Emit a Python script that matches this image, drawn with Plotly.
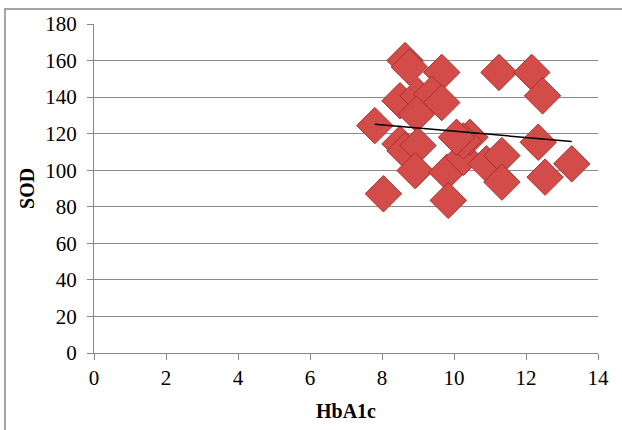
import numpy as np
import plotly.graph_objects as go

# HbA1c vs SOD measurements
hba1c = [8.64, 8.76, 9.66, 11.25, 12.16, 12.46, 8.50, 9.00, 9.38, 9.66,
         8.96, 7.80, 8.50, 8.64, 9.00, 8.92, 9.80, 10.26, 10.44, 10.26,
         10.90, 11.33, 11.33, 12.34, 12.53, 13.27, 8.04, 9.84, 10.07]
sod = [160.0, 156.5, 153.5, 153.5, 153.5, 140.7, 138.0, 140.7, 141.6, 137.0,
       130.7, 124.4, 114.4, 110.7, 113.5, 99.8, 98.9, 107.0, 118.0, 116.0,
       103.5, 108.0, 93.5, 115.3, 96.2, 103.5, 87.1, 83.5, 118.0]

x_ticks = [0, 2, 4, 6, 8, 10, 12, 14]
y_ticks = [0, 20, 40, 60, 80, 100, 120, 140, 160, 180]

# linear trendline over the data range
slope, intercept = np.polyfit(hba1c, sod, 1)
trend_x = [min(hba1c), max(hba1c)]
trend_y = [slope * v + intercept for v in trend_x]

W, H = 622, 430
L, R, T, B = 94, 24, 22, 77

fig = go.Figure()
fig.add_trace(go.Scatter(
    x=hba1c, y=sod, mode="markers",
    marker=dict(symbol="diamond", size=28, color="#D44C4A",
                line=dict(color="#A8302E", width=1)),
    hoverinfo="x+y", showlegend=False,
))
fig.add_trace(go.Scatter(
    x=trend_x, y=trend_y, mode="lines",
    line=dict(color="#000000", width=1.5),
    hoverinfo="skip", showlegend=False,
))

SERIF = "Liberation Serif, Times New Roman, serif"
axis_font = dict(family=SERIF, size=21, color="#000000")
title_font = dict(family=SERIF, size=20, color="#000000")

fig.update_xaxes(
    range=[0, 14], tickvals=x_ticks, ticktext=[str(v) for v in x_ticks],
    showgrid=False, zeroline=False, showline=True, linecolor="#878787", linewidth=1.3,
    ticks="outside", ticklen=6, tickcolor="#878787", tickfont=axis_font,
)
fig.update_yaxes(
    range=[0, 180], tickvals=y_ticks, ticktext=[str(v) for v in y_ticks],
    showgrid=True, gridcolor="#8A8A8A", gridwidth=1.3, zeroline=False,
    showline=True, linecolor="#878787", linewidth=1.3,
    ticks="outside", ticklen=6, tickcolor="#878787", tickfont=axis_font,
    ticklabelstandoff=6,
)

pw, ph = W - L - R, H - T - B
def px(xp):
    return (xp - L) / pw
def py(yp):
    return (H - B - yp) / ph

fig.update_layout(
    width=W, height=H,
    margin=dict(l=L, r=R, t=T, b=B),
    paper_bgcolor="#FFFFFF", plot_bgcolor="#FFFFFF",
    font=dict(family=SERIF, size=20),
    annotations=[
        dict(text="<b>HbA1c</b>", x=px(346), y=py(411), xref="paper", yref="paper",
             showarrow=False, font=title_font, xanchor="center", yanchor="middle"),
        dict(text="<b>SOD</b>", x=px(27), y=py(188), xref="paper", yref="paper",
             showarrow=False, font=title_font, textangle=-90,
             xanchor="center", yanchor="middle"),
    ],
    shapes=[
        dict(type="rect", xref="paper", yref="paper",
             x0=px(5), y0=py(460), x1=px(660), y1=py(7),
             line=dict(color="#878787", width=1.5), layer="below"),
    ],
)

fig.write_html("out.html")
